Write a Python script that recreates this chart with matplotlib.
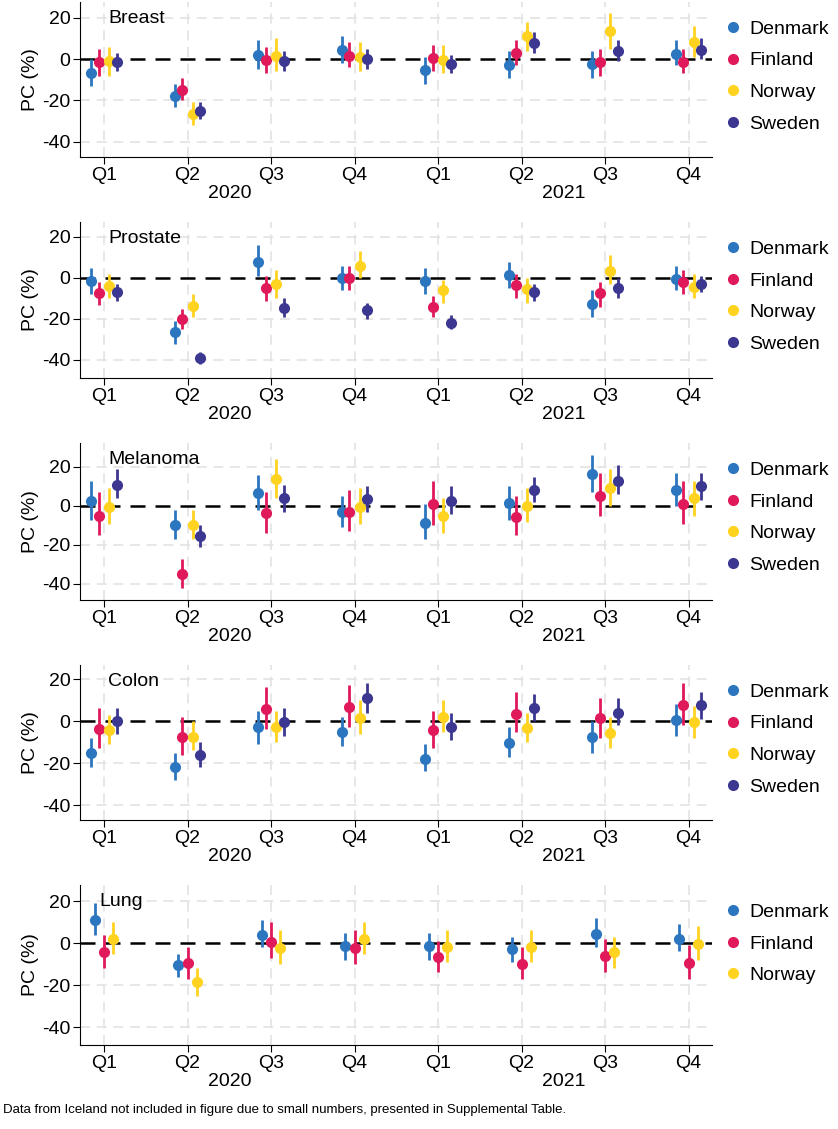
import matplotlib
matplotlib.use("Agg")
import matplotlib.pyplot as plt
import numpy as np

quarters = ["Q1", "Q2", "Q3", "Q4", "Q1", "Q2", "Q3", "Q4"]
years = ["2020", "2021"]
countries = ["Denmark", "Finland", "Norway", "Sweden"]
colors = {"Denmark": "#2C76C0", "Finland": "#E0195A", "Norway": "#FFD320", "Sweden": "#3C3790"}

# (estimate, lower, upper) per quarter
breast = {
    "Denmark": [(-7,-13,0),(-18,-23,-12),(2,-5,9),(4.5,-2,11),(-5.5,-12,1),(-3,-9,4),(-2.5,-9,4),(2.5,-3,9)],
    "Finland": [(-1.5,-8,5),(-15,-20,-9),(-0.5,-7,6),(1.5,-4,8),(0.5,-6,7),(3,-3,9),(-1.5,-8,5),(-1.5,-7,5)],
    "Norway":  [(-1,-8,6),(-26.5,-32,-21),(1.5,-6,10),(1,-6,8),(-0.5,-7,7),(11,4,18),(13.5,5,22),(8,1,16)],
    "Sweden":  [(-1.5,-6,3),(-25,-29,-21),(-1,-6,4),(0,-5,5),(-2.5,-7,2),(7.5,3,13),(4,-1,9),(4.5,0,10)],
}
prostate = {
    "Denmark": [(-1.5,-8,5),(-26.5,-32,-21),(8,1,16),(0,-6,6),(-1.5,-8,5),(1.5,-5,8),(-12.5,-19,-6),(-0.5,-6,6)],
    "Finland": [(-7.5,-13,-2),(-20,-25,-15),(-5,-11,1),(0,-6,6),(-14,-19,-9),(-3.5,-10,2),(-7.5,-14,-2),(-2,-8,4)],
    "Norway":  [(-4,-10,2),(-13.5,-19,-8),(-3,-10,4),(6,0,13),(-6,-12,-1),(-5.5,-12,0),(3.5,-3,11),(-4.5,-10,2)],
    "Sweden":  [(-7,-11,-3),(-39,-42,-36),(-14.5,-19,-10),(-15.5,-20,-12),(-22,-25,-18),(-7,-11,-3),(-5,-10,0),(-3,-7,1)],
}
melanoma = {
    "Denmark": [(2.5,-7,13),(-10,-17,-2),(6.5,-2,16),(-3,-11,5),(-8.5,-17,1),(1.5,-7,10),(16.5,7,26),(8,0,17)],
    "Finland": [(-5,-15,7),(-35,-42,-27),(-3.5,-14,7),(-3,-13,8),(1,-10,13),(-5.5,-15,5),(5,-5,17),(1,-9,13)],
    "Norway":  [(-0.5,-9,9),(-10,-17,-2),(14,4,24),(-0.5,-9,9),(-5,-14,4),(0,-8,9),(9,0,19),(4,-5,13)],
    "Sweden":  [(11,4,19),(-15.5,-21,-10),(4,-3,11),(3.5,-3,10),(2.5,-4,10),(8,2,15),(13,6,21),(10,3,17)],
}
colon = {
    "Denmark": [(-15,-22,-8),(-22,-28,-15),(-3,-11,5),(-5,-12,2),(-18,-24,-11),(-10.5,-17,-3),(-7.5,-15,0),(0.5,-7,8)],
    "Finland": [(-4,-13,6),(-7.5,-16,2),(5.5,-4,16),(6.5,-3,17),(-4.5,-13,5),(3.5,-5,14),(1.5,-8,11),(7.5,-2,18)],
    "Norway":  [(-4.5,-11,3),(-7.5,-14,0),(-3,-10,5),(1.5,-6,10),(2,-5,10),(-3.5,-10,4),(-5.5,-13,2),(-0.5,-8,7)],
    "Sweden":  [(0,-6,6),(-16,-22,-10),(-0.5,-7,6),(11,4,18),(-3,-9,4),(6,0,13),(4,-2,11),(7.5,1,14)],
}
lung = {
    "Denmark": [(11,4,19),(-10.5,-16,-5),(4,-2,11),(-1.5,-8,5),(-1.5,-8,5),(-3,-9,3),(4.5,-2,12),(2,-4,9)],
    "Finland": [(-4.5,-12,4),(-9.5,-17,-2),(0.5,-7,10),(-2.5,-10,6),(-6.5,-14,1),(-10,-17,-2),(-6,-14,2),(-9.5,-17,-1)],
    "Norway":  [(2,-5,10),(-18.5,-25,-12),(-2.5,-10,6),(2,-5,10),(-2,-9,6),(-2,-9,6),(-4.5,-12,3),(-0.5,-8,8)],
}
panels = [("Breast", breast), ("Prostate", prostate), ("Melanoma", melanoma), ("Colon", colon), ("Lung", lung)]

W, H = 838, 1129
fig = plt.figure(figsize=(W/100, H/100), dpi=100)
plt.rcParams['font.family'] = ['Liberation Sans', 'DejaVu Sans']

# pixel geometry: (top_px, bottom_px, zero_px, px_per_unit)
geo = [(2, 157, 59, 2.07), (222, 378, 278, 2.05), (443, 600, 506, 1.95),
       (665, 820, 721, 2.1), (885, 1045, 943, 2.1)]
left_px, right_px = 80, 712
xq0, dq = 104, 83.5
xmin = (left_px - xq0) / dq
xmax = (right_px - xq0) / dq
FS = 14

for (name, data), (top, bot, zero, ppu) in zip(panels, geo):
    ax = fig.add_axes([left_px/W, 1-bot/H, (right_px-left_px)/W, (bot-top)/H])
    ax.set_xlim(xmin, xmax)
    ax.set_ylim(-(bot-zero)/ppu, (zero-top)/ppu)
    for s in ["top", "right"]:
        ax.spines[s].set_visible(False)
    ax.set_yticks([20, 0, -20, -40])
    ax.set_yticklabels(["20", "0", "-20", "-40"])
    ax.set_xticks(range(8))
    ax.set_xticklabels(quarters)
    ax.tick_params(labelsize=FS, length=5, pad=2)
    for q in range(8):
        ax.axvline(q, color="#e3e3e3", lw=1.2, ls=(0, (6, 4)), zorder=0)
    for yv in [20, -20, -40]:
        ax.axhline(yv, color="#e3e3e3", lw=1.2, ls=(0, (6, 4)), zorder=0)
    ax.axhline(0, color="black", lw=1.8, ls=(0, (6, 4)), zorder=1)
    ax.set_ylabel("PC (%)", fontsize=FS, labelpad=2)
    tx = 0.045 if name != "Lung" else 0.03
    ax.annotate(name, xy=(tx, 1.0), xycoords="axes fraction", xytext=(0, -6),
                textcoords="offset points", fontsize=FS, va="top", ha="left")
    n = len(data)
    offs = [-0.15, -0.06, 0.06, 0.15] if n == 4 else [-0.11, 0.0, 0.11]
    for off, c in zip(offs, data):
        vals = np.array(data[c])
        x = np.arange(8) + off
        ax.vlines(x, vals[:, 1], vals[:, 2], color=colors[c], lw=2, zorder=3)
        ax.plot(x, vals[:, 0], "o", color=colors[c], ms=7, zorder=4, label=c)
    for i, yr in enumerate(years):
        ax.annotate(yr, xy=(1.5 + 4*i, 0), xycoords=ax.get_xaxis_transform(),
                    xytext=(0, -20), textcoords="offset points",
                    ha="center", va="top", fontsize=FS)
    ax.legend(loc="upper left", bbox_to_anchor=(1.0, 0.97), frameon=False,
              fontsize=FS, handletextpad=0.4, labelspacing=0.72, handlelength=0.8,
              borderaxespad=0.3)

fig.text(3/W, 1-1110/H, "Data from Iceland not included in figure due to small numbers, presented in Supplemental Table.",
         fontsize=9.5, va="center", ha="left")
fig.savefig("out.png", dpi=100)
